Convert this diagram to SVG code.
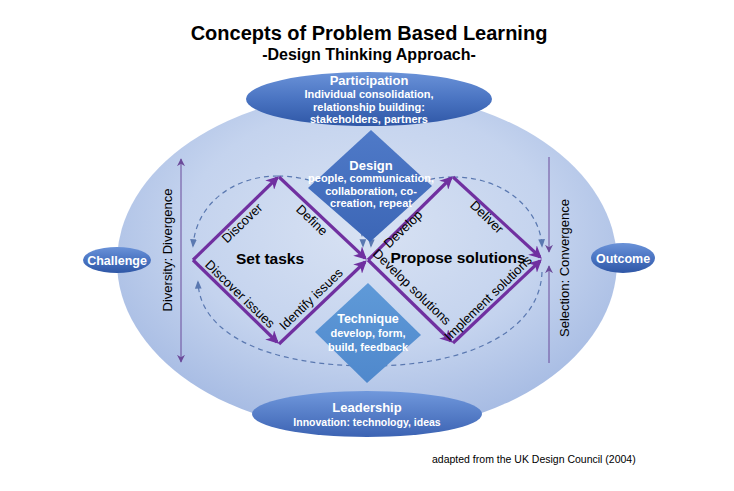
<svg xmlns="http://www.w3.org/2000/svg" width="734" height="491" viewBox="0 0 734 491">
<defs>
<radialGradient id="gBig" cx="50%" cy="40%" r="60%">
<stop offset="0" stop-color="#d8e2f3"/>
<stop offset="0.6" stop-color="#c4d3ee"/>
<stop offset="1" stop-color="#a6bbe3"/>
</radialGradient>
<linearGradient id="gOval" x1="0" y1="0" x2="0" y2="1">
<stop offset="0" stop-color="#6a92d8"/>
<stop offset="0.5" stop-color="#4a74c2"/>
<stop offset="1" stop-color="#2f57a6"/>
</linearGradient>
<linearGradient id="gLead" x1="0" y1="0" x2="0" y2="1">
<stop offset="0" stop-color="#7098dc"/>
<stop offset="1" stop-color="#3c63b3"/>
</linearGradient>
<linearGradient id="gDesign" x1="0" y1="0" x2="0" y2="1">
<stop offset="0" stop-color="#4f7ac8"/>
<stop offset="1" stop-color="#3c66b6"/>
</linearGradient>
<linearGradient id="gTech" x1="0" y1="0" x2="0" y2="1">
<stop offset="0" stop-color="#5f9ad8"/>
<stop offset="1" stop-color="#4f88cc"/>
</linearGradient>
<marker id="pArrow" viewBox="0 0 10 10" refX="8" refY="5" markerWidth="4" markerHeight="4" orient="auto" markerUnits="strokeWidth">
<path d="M0,0 L10,5 L0,10 L3,5 z" fill="#7030a0"/>
</marker>
<marker id="dArrow" viewBox="0 0 10 10" refX="8" refY="5" markerWidth="7" markerHeight="7" orient="auto" markerUnits="strokeWidth">
<path d="M0,1 L10,5 L0,9 z" fill="#5a78b0"/>
</marker>
<marker id="thinArrow" viewBox="0 0 10 10" refX="9" refY="5" markerWidth="8" markerHeight="8" orient="auto" markerUnits="strokeWidth">
<path d="M0,0 L10,5 L0,10 L3,5 z" fill="#6b4a9a"/>
</marker>
</defs>
<style>
.title{font-family:"Liberation Sans",Arial,sans-serif;font-weight:bold;fill:#000;text-anchor:middle}
.wt{font-family:"Liberation Sans",Arial,sans-serif;font-weight:bold;fill:#fff;text-anchor:middle}
.lbl{font-family:"Liberation Sans",Arial,sans-serif;font-size:13px;fill:#000;text-anchor:middle;dominant-baseline:central}
.big{font-family:"Liberation Sans",Arial,sans-serif;font-size:15.5px;font-weight:bold;fill:#000;text-anchor:middle;dominant-baseline:central}
.side{font-family:"Liberation Sans",Arial,sans-serif;font-size:13px;fill:#000;text-anchor:middle;dominant-baseline:central}
.pl{fill:none;stroke:#7030a0;stroke-width:3.2;marker-end:url(#pArrow)}
.dash{fill:none;stroke:#5a78b0;stroke-width:1.2;stroke-dasharray:5,4}
.thin{fill:none;stroke:#6b4a9a;stroke-width:1}
</style>
<rect width="734" height="491" fill="#fff"/>

<text class="title" x="369" y="40" font-size="20">Concepts of Problem Based Learning</text>
<text class="title" x="369" y="60" font-size="16">-Design Thinking Approach-</text>

<g id="frame">
<ellipse cx="367" cy="262" rx="250" ry="170" fill="url(#gBig)"/>
</g>

<g id="connectors">
<path class="dash" d="M278,176 C232,176 196,205 193,246" marker-end="url(#dArrow)"/>
<path class="dash" d="M278,176 C328,176 362,205 363,246" marker-end="url(#dArrow)"/>
<path class="dash" d="M453,177 C405,177 373,205 371,246" marker-end="url(#dArrow)"/>
<path class="dash" d="M453,177 C505,177 540,210 542,246" marker-end="url(#dArrow)"/>
<path class="dash" d="M542,272 C540,330 470,366 370,366 C270,366 200,335 198,282" marker-end="url(#dArrow)"/>
<line class="thin" x1="181" y1="260" x2="181" y2="159" marker-end="url(#thinArrow)"/>
<line class="thin" x1="181" y1="260" x2="181" y2="362" marker-end="url(#thinArrow)"/>
<line class="thin" x1="549" y1="157" x2="549" y2="252" marker-end="url(#thinArrow)"/>
<line class="thin" x1="549" y1="363" x2="549" y2="266" marker-end="url(#thinArrow)"/>
</g>

<g id="participation">
<ellipse cx="369" cy="99" rx="123" ry="27" fill="url(#gOval)"/>
<text class="wt" x="369" y="85" font-size="13">Participation</text>
<text class="wt" x="369" y="98" font-size="11">Individual consolidation,</text>
<text class="wt" x="369" y="110.5" font-size="11">relationship building:</text>
<text class="wt" x="369" y="123" font-size="11">stakeholders, partners</text>
</g>

<g id="design">
<polygon points="371,130 432,186 370,242 308,188" fill="url(#gDesign)"/>
<text class="wt" x="371" y="170" font-size="13">Design</text>
<text class="wt" x="371" y="182" font-size="11">people, communication,</text>
<text class="wt" x="371" y="194.5" font-size="11">collaboration, co-</text>
<text class="wt" x="371" y="207" font-size="11">creation, repeat</text>
</g>

<g id="technique">
<polygon points="368,283 421,335 367,383 315,332" fill="url(#gTech)"/>
<text class="wt" x="368" y="323" font-size="12.5">Technique</text>
<text class="wt" x="368" y="337" font-size="11">develop, form,</text>
<text class="wt" x="368" y="351" font-size="11">build, feedback</text>
</g>

<g id="leadership">
<ellipse cx="367" cy="414" rx="115" ry="23" fill="url(#gLead)"/>
<text class="wt" x="367" y="412" font-size="13">Leadership</text>
<text class="wt" x="367" y="426" font-size="10.5">Innovation: technology, ideas</text>
</g>

<g id="challenge">
<ellipse cx="117" cy="260" rx="34" ry="13" fill="url(#gOval)"/>
<text class="wt" x="117" y="264.5" font-size="12.5">Challenge</text>
</g>

<g id="outcome">
<ellipse cx="623" cy="258" rx="32" ry="15" fill="url(#gOval)"/>
<text class="wt" x="623" y="262.5" font-size="12.5">Outcome</text>
</g>

<g id="set-tasks">
<path class="pl" d="M193,260 L277,178"/>
<path class="pl" d="M279,177 L365,258"/>
<path class="pl" d="M193,260 L277,342"/>
<path class="pl" d="M279,344 L365,262"/>
<text class="big" x="270" y="258">Set tasks</text>
<text class="lbl" transform="translate(242,223) rotate(-44)">Discover</text>
<text class="lbl" transform="translate(312,220) rotate(44)">Define</text>
<text class="lbl" transform="translate(240,294) rotate(44)">Discover issues</text>
<text class="lbl" transform="translate(311,299) rotate(-44)">Identify issues</text>
</g>

<g id="propose-solutions">
<path class="pl" d="M368,260 L451,178"/>
<path class="pl" d="M453,177 L540,257"/>
<path class="pl" d="M368,260 L451,341"/>
<path class="pl" d="M453,343 L540,261"/>
<text class="big" x="458" y="257">Propose solutions</text>
<text class="lbl" transform="translate(403,229) rotate(-44)">Develop</text>
<text class="lbl" transform="translate(487,217) rotate(44)">Deliver</text>
<text class="lbl" transform="translate(412,287) rotate(44)">Develop solutions</text>
<text class="lbl" transform="translate(488,298) rotate(-44)">Implement solutions</text>
</g>

<g id="axes-labels">
<text class="side" transform="translate(167,250) rotate(-90)">Diversity: Divergence</text>
<text class="side" transform="translate(564,268) rotate(-90)">Selection: Convergence</text>
</g>

<text x="432" y="463" font-family="Liberation Sans, Arial, sans-serif" font-size="10.5" fill="#000">adapted from the UK Design Council (2004)</text>
</svg>
